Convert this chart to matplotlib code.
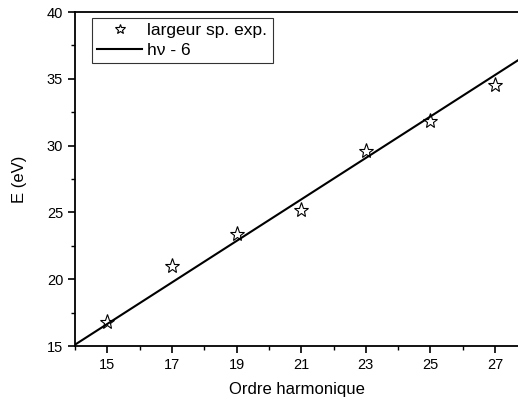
import matplotlib
matplotlib.use('Agg')
from matplotlib import pyplot as plt
from matplotlib.ticker import MultipleLocator

plt.rcParams['font.family'] = ['Liberation Sans', 'DejaVu Sans']

# ordres harmoniques et largeur spectrale mesuree
ordres = [15, 17, 19, 21, 23, 25, 27]
largeur = [16.8, 21.0, 23.4, 25.2, 29.6, 31.85, 34.5]

# droite h nu - 6 (extremites)
droite_x = [14.0, 27.75]
droite_y = [15.1, 36.45]

fig = plt.figure(figsize=(5.18, 4.0), dpi=100)
ax = fig.add_axes([0.1448, 0.135, 0.8552, 0.835])

ax.plot(ordres, largeur, linestyle='none', marker='*', markersize=11,
        markerfacecolor='white', markeredgecolor='black', markeredgewidth=0.8,
        label='largeur sp. exp.')
ax.plot(droite_x, droite_y, color='black', linewidth=1.5, label='h\u03bd - 6')

ax.set_xlim(14, 27.71)
ax.set_ylim(15, 40)
ax.xaxis.set_major_locator(MultipleLocator(2))
ax.xaxis.set_minor_locator(MultipleLocator(1))
ax.yaxis.set_major_locator(MultipleLocator(5))
ax.yaxis.set_minor_locator(MultipleLocator(2.5))
ax.set_xticks([15, 17, 19, 21, 23, 25, 27])
ax.tick_params(which='major', direction='out', length=5, width=1.2, labelsize=10.5)
ax.tick_params(which='minor', direction='out', length=3, width=1.0)
ax.spines['right'].set_visible(False)
for s in ['left', 'bottom', 'top']:
    ax.spines[s].set_linewidth(1.3)

ax.set_xlabel('Ordre harmonique', fontsize=12, labelpad=7)
ax.set_ylabel('E (eV)', fontsize=12, labelpad=14)

leg = ax.legend(loc='upper left', bbox_to_anchor=(0.038, 0.982), fontsize=12.5,
                frameon=True, fancybox=False, edgecolor='black', handlelength=2.6,
                handletextpad=0.3, borderpad=0.3, labelspacing=0.25, markerscale=0.65,
                borderaxespad=0)
leg.get_frame().set_linewidth(0.8)

plt.savefig('out.png', dpi=100)
